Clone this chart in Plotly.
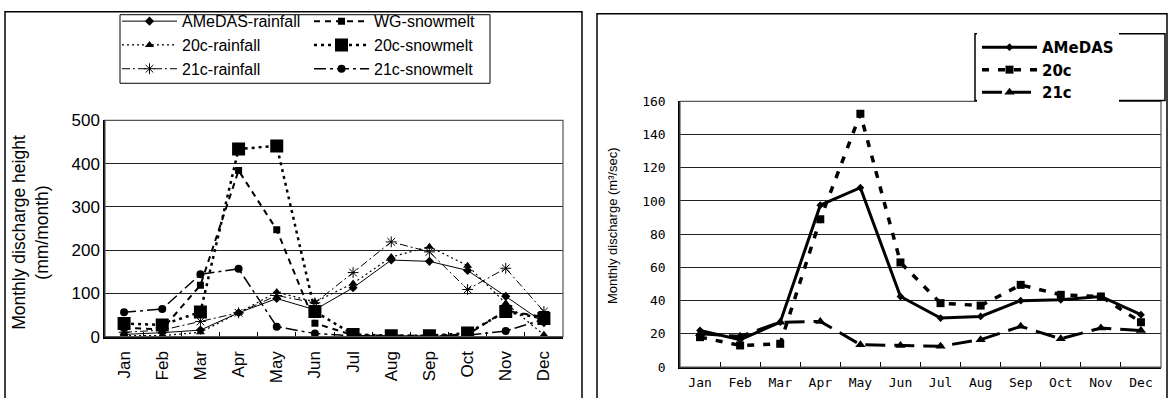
import plotly.graph_objects as go

W, H = 1169, 398

months = ["Jan", "Feb", "Mar", "Apr", "May", "Jun", "Jul", "Aug", "Sep", "Oct", "Nov", "Dec"]

# Monthly discharge height (mm/month)
amedas_rainfall = [5, 9, 15, 55, 88, 62, 113, 177, 174, 153, 93, 32]
wg_snowmelt = [20, 17, 119, 384, 247, 31, 3, 2, 2, 5, 60, 45]
c20_rainfall = [2, 2, 10, 55, 103, 80, 123, 184, 208, 164, 77, 4]
c20_snowmelt = [30, 27, 57, 434, 441, 58, 5, 2, 2, 8, 58, 42]
c21_rainfall = [10, 15, 35, 55, 95, 78, 148, 219, 196, 109, 158, 58]
c21_snowmelt = [56, 64, 144, 157, 23, 7, 2, 1, 1, 3, 13, 40]

# Monthly discharge (m3/sec)
q_amedas = [22, 16.5, 27, 97.5, 108, 42.5, 29.5, 30.5, 40, 40.5, 42.5, 31.5]
q_20c = [18, 13, 14, 89, 152.5, 63, 38.5, 37, 49.5, 43.5, 42.5, 27]
q_21c = [20, 18.5, 27, 27.5, 13.5, 13, 12.5, 16.5, 24.5, 17, 23.5, 22]

FONT = "Liberation Sans, Arial, sans-serif"
MONO = "DejaVu Sans Mono, monospace"
NARROW = "Liberation Sans Narrow, Arial Narrow, sans-serif"
WIDE = "DejaVu Sans, sans-serif"


def px_x(v):
    return v / W


def px_y(v):
    return (H - v) / H


fig = go.Figure()


def left_trace(name, values, dash, width, symbol, size, legend):
    fig.add_trace(go.Scatter(
        x=months, y=values, name=name, mode="lines+markers",
        xaxis="x", yaxis="y", legend=legend, legendgroup=name,
        line=dict(color="black", width=width, dash=dash),
        marker=dict(symbol=symbol, size=size, color="black",
                    line=dict(color="black", width=1 if "open" in symbol else 0)),
    ))


# left panel, first legend column
left_trace("AMeDAS-rainfall", amedas_rainfall, "solid", 1, "diamond", 7, "legend")
left_trace("20c-rainfall", c20_rainfall, "2px,3px", 1.2, "triangle-up", 8, "legend")
left_trace("21c-rainfall", c21_rainfall, "8px,3px,2px,3px", 1, "asterisk-open", 9, "legend")
# left panel, second legend column
left_trace("WG-snowmelt", wg_snowmelt, "6px,5px", 2, "square", 7, "legend2")
left_trace("20c-snowmelt", c20_snowmelt, "3px,4px", 2.5, "square", 13, "legend2")
left_trace("21c-snowmelt", c21_snowmelt, "12px,4px,3px,4px", 1.5, "circle", 8, "legend2")

# right panel
fig.add_trace(go.Scatter(
    x=months, y=q_amedas, name="AMeDAS", mode="lines+markers",
    xaxis="x2", yaxis="y2", legend="legend3", legendgroup="a",
    line=dict(color="black", width=3), marker=dict(symbol="diamond", size=6, color="black")))
fig.add_trace(go.Scatter(
    x=months, y=q_20c, name="20c", mode="lines+markers",
    xaxis="x2", yaxis="y2", legend="legend3", legendgroup="b",
    line=dict(color="black", width=3.5, dash="7px,9px"), marker=dict(symbol="square", size=8, color="black")))
fig.add_trace(go.Scatter(
    x=months, y=q_21c, name="21c", mode="lines+markers",
    xaxis="x2", yaxis="y2", legend="legend3", legendgroup="c",
    line=dict(color="black", width=3, dash="20px,9px"), marker=dict(symbol="triangle-up", size=9, color="black")))

# panel geometry (pixels)
L_X0, L_X1, L_Y0, L_Y1 = 105, 563, 117, 344
R_X0, R_X1, R_Y0, R_Y1 = 680, 1161, 97, 376

common_x = dict(type="category", range=[-0.5, 11.5], showgrid=False, showline=True,
                linecolor="black", linewidth=1.5, mirror=False, ticks="inside",
                tickson="boundaries", ticklen=5, tickcolor="black", zeroline=False)

fig.update_layout(
    width=W, height=H,
    margin=dict(l=0, r=0, t=0, b=0),
    paper_bgcolor="white", plot_bgcolor="white",
    font=dict(family=FONT, color="black"),
    xaxis=dict(common_x, domain=[px_x(L_X0), px_x(L_X1)], anchor="y",
               tickangle=-90, ticklabelstandoff=6, tickfont=dict(size=17, family=FONT)),
    yaxis=dict(domain=[px_y(L_Y1), px_y(L_Y0)], anchor="x", range=[0, 500],
               tickvals=[0, 100, 200, 300, 400, 500], showgrid=True,
               gridcolor="#222", gridwidth=1, showline=True, linecolor="black",
               linewidth=1.5, zeroline=False, ticks="", tickfont=dict(size=17, family=FONT)),
    xaxis2=dict(common_x, domain=[px_x(R_X0), px_x(R_X1)], anchor="y2",
                tickangle=0, ticklabelstandoff=3, tickfont=dict(size=13, family=MONO)),
    yaxis2=dict(domain=[px_y(R_Y1), px_y(R_Y0)], anchor="x2", range=[0, 160],
                dtick=20, showgrid=True, gridcolor="#222", gridwidth=1,
                showline=True, linecolor="black", linewidth=1.5, zeroline=False,
                ticks="", ticklabelstandoff=10, tickfont=dict(size=13, family=MONO)),
    legend=dict(x=px_x(117), y=px_y(-5), xanchor="left", yanchor="top",
                bgcolor="rgba(0,0,0,0)", font=dict(size=16, family=FONT),
                tracegroupgap=0, itemwidth=55),
    legend2=dict(x=px_x(309), y=px_y(-5), xanchor="left", yanchor="top",
                 bgcolor="rgba(0,0,0,0)", font=dict(size=16, family=FONT),
                 tracegroupgap=0, itemwidth=55),
    legend3=dict(x=px_x(977), y=px_y(23), xanchor="left", yanchor="top",
                 bgcolor="white", font=dict(size=15, family=WIDE, weight="bold"),
                 tracegroupgap=0, itemwidth=55),
    shapes=[
        # outer frames of the two panels (open at the bottom edge)
        dict(type="rect", xref="paper", yref="paper", x0=px_x(5), x1=px_x(582),
             y0=-0.05, y1=px_y(3), line=dict(color="black", width=1.5)),
        dict(type="rect", xref="paper", yref="paper", x0=px_x(597), x1=px_x(1167),
             y0=-0.05, y1=px_y(5), line=dict(color="black", width=1.5)),
        # plot area borders
        dict(type="rect", xref="paper", yref="paper", x0=px_x(L_X0), x1=px_x(L_X1),
             y0=px_y(L_Y1), y1=px_y(L_Y0), line=dict(color="#555", width=1.2)),
        dict(type="rect", xref="paper", yref="paper", x0=px_x(R_X0), x1=px_x(R_X1),
             y0=px_y(R_Y1), y1=px_y(R_Y0), line=dict(color="#555", width=1.2)),
        # border around the left legend
        dict(type="rect", xref="paper", yref="paper", x0=px_x(120), x1=px_x(490),
             y0=px_y(78), y1=px_y(6), line=dict(color="black", width=1)),
        # border around the right legend
        dict(type="rect", xref="paper", yref="paper", x0=px_x(975), x1=px_x(1165),
             y0=px_y(96), y1=px_y(26), line=dict(color="black", width=1.5),
             layer="above"),
    ],
    annotations=[
        dict(text="Monthly discharge height<br>(mm/month)", textangle=-90,
             xref="paper", yref="paper", x=px_x(31), y=px_y(235),
             xanchor="center", yanchor="middle",
             showarrow=False, font=dict(size=17.5, family=FONT)),
        dict(text="Monthly discharge (m³/sec)", textangle=-90,
             xref="paper", yref="paper", x=px_x(612), y=px_y(228),
             xanchor="center", yanchor="middle",
             showarrow=False, font=dict(size=13, family=NARROW)),
    ],
)

fig.write_html("out.html")
